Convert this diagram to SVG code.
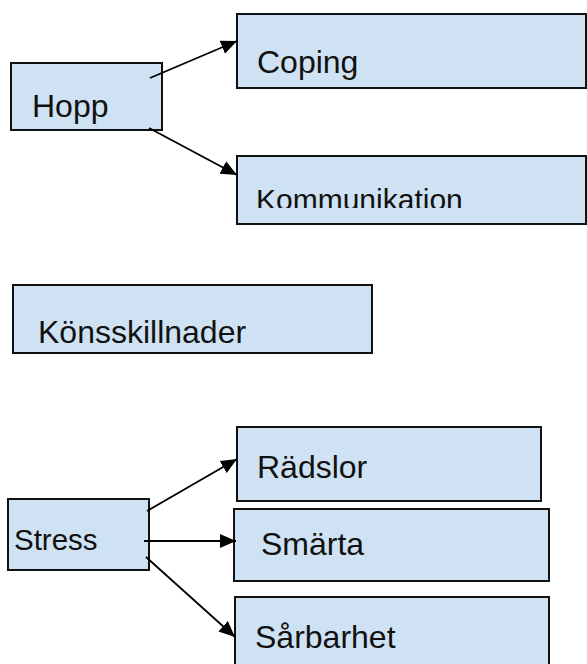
<svg xmlns="http://www.w3.org/2000/svg" width="587" height="664" viewBox="0 0 587 664">
<style>
.box{fill:#cfe2f3;stroke:#111;stroke-width:2}
.lbl{font-family:"Liberation Sans",Arial,sans-serif;font-size:32px;fill:#111}
.conn{stroke:#000;stroke-width:1.8;fill:none;marker-end:url(#ah)}
</style>
<defs>
<marker id="ah" markerUnits="userSpaceOnUse" markerWidth="18" markerHeight="14" refX="16" refY="7" orient="auto">
<path d="M0,0 L16,7 L0,14 Z" fill="#000"/>
</marker>
<clipPath id="kclip"><rect x="237" y="156" width="350" height="52"/></clipPath>
</defs>
<g id="hopp"><rect class="box" x="11" y="63" width="151" height="67"/><text class="lbl" x="32" y="117">Hopp</text></g>
<g id="coping"><rect class="box" x="237" y="14" width="349" height="74"/><text class="lbl" x="257" y="73">Coping</text></g>
<g id="kommunikation"><rect class="box" x="237" y="156" width="349" height="68"/><text class="lbl" x="256" y="210" style="font-size:30px" clip-path="url(#kclip)">Kommunikation</text></g>
<g id="konsskillnader"><rect class="box" x="13" y="285" width="359" height="68"/><text class="lbl" x="38" y="343">Könsskillnader</text></g>
<g id="stress"><rect class="box" x="8" y="499" width="141" height="71"/><text class="lbl" x="14" y="550" style="font-size:29.5px">Stress</text></g>
<g id="radslor"><rect class="box" x="237" y="427" width="304" height="74"/><text class="lbl" x="257" y="478">Rädslor</text></g>
<g id="smarta"><rect class="box" x="234" y="509" width="315" height="72"/><text class="lbl" x="261" y="555">Smärta</text></g>
<g id="sarbarhet"><rect class="box" x="235" y="597" width="314" height="72"/><text class="lbl" x="255" y="648">Sårbarhet</text></g>
<g id="connectors">
<line class="conn" x1="150" y1="78" x2="237" y2="41"/>
<line class="conn" x1="149" y1="128" x2="237" y2="175"/>
<line class="conn" x1="147" y1="511" x2="237" y2="459"/>
<line class="conn" x1="144" y1="541" x2="236" y2="541"/>
<line class="conn" x1="146" y1="557" x2="235" y2="637"/>
</g>
</svg>
